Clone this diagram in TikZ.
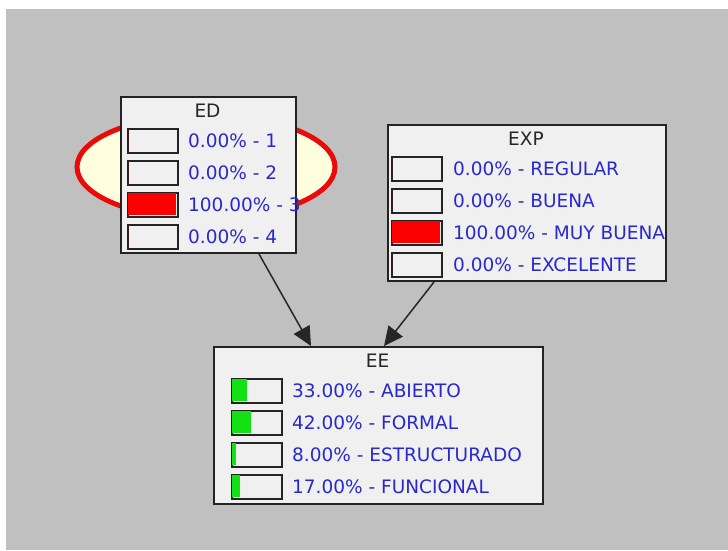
\documentclass[tikz,border=0pt]{standalone}
\usepackage{fontspec}
\setmainfont{DejaVu Sans}
\usetikzlibrary{positioning}
\usetikzlibrary{calc}
\usetikzlibrary{shapes.geometric}
\usetikzlibrary{arrows.meta}
\definecolor{panel}{RGB}{192,192,192}
\definecolor{boxfill}{RGB}{240,240,240}
\definecolor{boxline}{RGB}{35,35,35}
\definecolor{stateblue}{RGB}{40,40,205}
\definecolor{stred}{RGB}{250,0,0}
\definecolor{stgreen}{RGB}{20,225,20}
\definecolor{evfill}{RGB}{255,255,222}
\definecolor{evred}{RGB}{235,10,10}

\tikzset{
  netbox/.style={rectangle, draw=boxline, line width=2pt, fill=boxfill,
                 inner sep=0pt, anchor=north west},
  statebar/.style={rectangle, draw=boxline, line width=1.6pt, fill=boxfill,
                   inner sep=0pt, minimum width=50pt, minimum height=24pt,
                   anchor=north west},
  statetext/.style={text=stateblue, anchor=base west, inner sep=0pt},
  boxtitle/.style={text=black!85, anchor=base, inner sep=0pt},
  evmark/.style={ellipse, draw=evred, line width=5pt, fill=evfill, inner sep=0pt},
  link/.style={line width=1.5pt, draw=black!85, -{Triangle[length=19pt,width=18pt]}}
}

\begin{document}
\begin{tikzpicture}[x=1pt, y=-1pt, font=\fontsize{18.5}{22}\selectfont]

%---------------------------------------
% Canvas
%---------------------------------------
\useasboundingbox (0,0) rectangle (728,550);
\fill[white] (0,0) rectangle (728,550);
\fill[panel] (6,9) rectangle (728,550);

% evidence mark behind ED
\node[evmark, minimum width=258pt, minimum height=104pt] (edmark) at (206,167) {};

%====================================================
% ED
%====================================================
\node[netbox, minimum width=175pt, minimum height=156pt] (ed) at (120,96) {};
\node[boxtitle] (edtitle) at (207.5,117) {ED};

\foreach \p/\lab [count=\i from 0] in {0/1, 0/2, 100/3, 0/4} {
  \node[statebar] (edbar\i) at (127,128+32*\i) {};
  \fill[stred] ($(edbar\i.north west)+(1,1)$) rectangle +({\p/100*48},22);
  \node[statetext] (edtext\i) at (188,147+32*\i) {\p.00\% - \lab};
}

%====================================================
% EXP
%====================================================
\node[netbox, minimum width=278pt, minimum height=156pt] (exp) at (387,124) {};
\node[boxtitle] (exptitle) at (526,145) {EXP};

\foreach \p/\lab [count=\i from 0] in {0/REGULAR, 0/BUENA, 100/MUY BUENA, 0/EXCELENTE} {
  \node[statebar] (expbar\i) at (391,156+32*\i) {};
  \fill[stred] ($(expbar\i.north west)+(1,1)$) rectangle +({\p/100*48},22);
  \node[statetext] (exptext\i) at (453,175+32*\i) {\p.00\% - \lab};
}

%====================================================
% EE
%====================================================
\node[netbox, minimum width=329pt, minimum height=157pt] (ee) at (213,346) {};
\node[boxtitle] (eetitle) at (377.5,367) {EE};

\foreach \p/\lab [count=\i from 0] in {33/ABIERTO, 42/FORMAL, 8/ESTRUCTURADO, 17/FUNCIONAL} {
  \node[statebar] (eebar\i) at (231,378+32*\i) {};
  \fill[stgreen] ($(eebar\i.north west)+(1,1)$) rectangle +({\p/100*46},22);
  \node[statetext] (eetext\i) at (292,397+32*\i) {\p.00\% - \lab};
}

% Links
\draw[link] ($(ed.south)+(50.5,0)$) -- ($(ee.north)+(-67.5,0)$);
\draw[link] ($(exp.south)+(-93,0)$) -- ($(ee.north)+(5.5,0)$);

\end{tikzpicture}
\end{document}
